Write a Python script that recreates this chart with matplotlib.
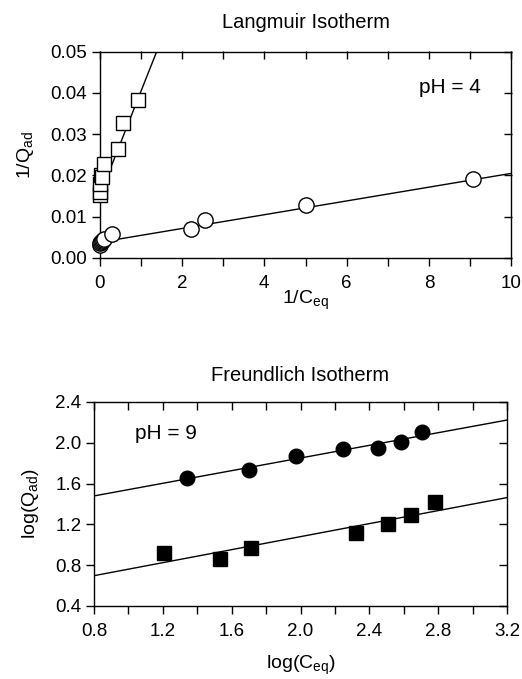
import matplotlib
matplotlib.use("Agg")
import matplotlib.pyplot as plt
import numpy as np
from matplotlib.ticker import MultipleLocator, FormatStrFormatter

plt.rcParams['font.family'] = ['Liberation Sans', 'DejaVu Sans']
plt.rcParams['font.size'] = 14

# Langmuir (pH = 4)
lang_circ_x = [0.0, 0.02, 0.04, 0.06, 0.08, 0.10, 0.30, 2.21, 2.55, 5.0, 9.07]
lang_circ_y = [0.0032, 0.0036, 0.0039, 0.0042, 0.0044, 0.0046, 0.0059, 0.0070, 0.0092, 0.0128, 0.0191]
lang_circ_fit = [0.0038, 0.00167]  # intercept, slope

lang_sq_x = [0.0, 0.01, 0.02, 0.03, 0.06, 0.10, 0.46, 0.58, 0.94]
lang_sq_y = [0.0152, 0.0160, 0.0180, 0.0202, 0.0195, 0.0228, 0.0265, 0.0326, 0.0382]
lang_sq_fit = [0.0150, 0.0252]

# Freundlich (pH = 9)
fr_circ_x = [1.338, 1.700, 1.973, 2.248, 2.453, 2.586, 2.704]
fr_circ_y = [1.657, 1.731, 1.873, 1.938, 1.948, 2.012, 2.109]
fr_circ_fit = [1.231, 0.310]

fr_sq_x = [1.206, 1.535, 1.711, 2.325, 2.510, 2.642, 2.784]
fr_sq_y = [0.923, 0.862, 0.968, 1.120, 1.201, 1.291, 1.420]
fr_sq_fit = [0.442, 0.319]

fig = plt.figure(figsize=(5.22, 6.79), dpi=100)
ax1 = fig.add_axes([99.5/522, (679-258)/679, 412/522, 206.5/679])
ax2 = fig.add_axes([94/522, (679-606)/679, 413/522, 204/679])

FS = 14
TS = 13.5

def style(ax):
    for s in ax.spines.values():
        s.set_linewidth(1.0)
    ax.tick_params(which='both', direction='out', length=6, width=1.0,
                   top=False, right=False, labelsize=TS)
    ax.tick_params(which='both', axis='x', pad=6)
    ax.tick_params(which='both', axis='y', pad=3)
    sec = ax.secondary_xaxis('top')
    sec.tick_params(which='both', direction='in', length=6, width=1.0, labeltop=False)
    sec.set_xticks(ax.get_xticks(minor=False))
    sec.xaxis.set_minor_locator(ax.xaxis.get_minor_locator())
    sec.set_xticklabels([])
    secy = ax.secondary_yaxis('right')
    secy.tick_params(which='both', direction='in', length=6, width=1.0)
    secy.set_yticks(ax.get_yticks(minor=False))
    secy.set_yticklabels([])
    for s in list(sec.spines.values()) + list(secy.spines.values()):
        s.set_visible(False)

# --- Langmuir ---
xl = np.array([0, 10])
ax1.plot(xl, lang_circ_fit[0] + lang_circ_fit[1] * xl, color='black', lw=1.0, zorder=1)
xs = np.array([0, 2])
ax1.plot(xs, lang_sq_fit[0] + lang_sq_fit[1] * xs, color='black', lw=1.0, zorder=1)
ax1.plot(lang_circ_x, lang_circ_y, 'o', ms=11, mfc='white', mec='black', mew=1.0, zorder=3, clip_on=False)
ax1.plot(lang_sq_x, lang_sq_y, 's', ms=10, mfc='white', mec='black', mew=1.0, zorder=3, clip_on=False)
ax1.set_xlim(0, 10)
ax1.set_ylim(0, 0.05)
ax1.xaxis.set_major_locator(MultipleLocator(2))
ax1.xaxis.set_minor_locator(MultipleLocator(1))
ax1.yaxis.set_major_locator(MultipleLocator(0.01))
ax1.yaxis.set_major_formatter(FormatStrFormatter('%.2f'))
ax1.set_title('Langmuir Isotherm', fontsize=14.5, pad=17)
ax1.set_xlabel(r'1/C$_\mathregular{eq}$', fontsize=FS, labelpad=-2)
ax1.set_ylabel(r'1/Q$_\mathregular{ad}$', fontsize=FS, labelpad=10)
ax1.text(0.775, 0.80, 'pH = 4', transform=ax1.transAxes, fontsize=15)
style(ax1)

# --- Freundlich ---
xf = np.array([0.8, 3.2])
ax2.plot(xf, fr_circ_fit[0] + fr_circ_fit[1] * xf, color='black', lw=1.0, zorder=1)
ax2.plot(xf, fr_sq_fit[0] + fr_sq_fit[1] * xf, color='black', lw=1.0, zorder=1)
ax2.plot(fr_circ_x, fr_circ_y, 'o', ms=10.5, color='black', zorder=3)
ax2.plot(fr_sq_x, fr_sq_y, 's', ms=9.5, color='black', zorder=3)
ax2.set_xlim(0.8, 3.2)
ax2.set_ylim(0.4, 2.4)
ax2.xaxis.set_major_locator(MultipleLocator(0.4))
ax2.xaxis.set_minor_locator(MultipleLocator(0.2))
ax2.yaxis.set_major_locator(MultipleLocator(0.4))
ax2.xaxis.set_major_formatter(FormatStrFormatter('%.1f'))
ax2.yaxis.set_major_formatter(FormatStrFormatter('%.1f'))
ax2.set_title('Freundlich Isotherm', fontsize=14.5, pad=15)
ax2.set_xlabel(r'log(C$_\mathregular{eq}$)', fontsize=FS, labelpad=10)
ax2.set_ylabel(r'log(Q$_\mathregular{ad}$)', fontsize=FS, labelpad=10)
ax2.text(0.1, 0.82, 'pH = 9', transform=ax2.transAxes, fontsize=15)
style(ax2)

fig.savefig('out.png', dpi=100)
